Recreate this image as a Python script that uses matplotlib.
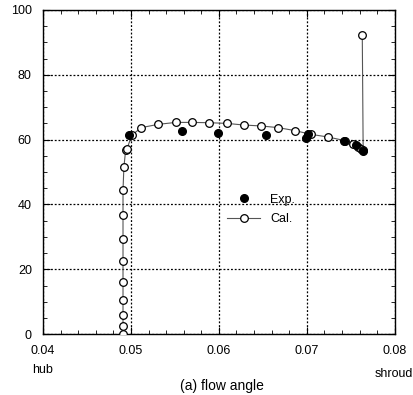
import matplotlib.pyplot as plt
from matplotlib.ticker import MultipleLocator

plt.rcParams['font.family'] = ['Liberation Sans', 'DejaVu Sans']

# calculated flow angle along the span
cal_x = [0.0491, 0.0491, 0.0491, 0.0491, 0.0491, 0.0491, 0.0491, 0.0491,
         0.0491, 0.0492, 0.0494, 0.04955, 0.0501, 0.0512, 0.0531, 0.0551,
         0.0570, 0.0589, 0.0609, 0.0628, 0.0648, 0.0667, 0.0686, 0.0705,
         0.0724, 0.0743, 0.0752, 0.0758, 0.0762, 0.0764, 0.0763]
cal_y = [0.0, 2.5, 5.8, 10.4, 16.0, 22.5, 29.2, 36.6,
         44.4, 51.4, 56.8, 57.1, 61.4, 63.7, 64.7, 65.3,
         65.3, 65.2, 65.0, 64.5, 64.2, 63.7, 62.8, 61.6,
         60.8, 59.7, 58.6, 57.8, 57.2, 56.8, 92.1]

# measured flow angle
exp_x = [0.0498, 0.0558, 0.0599, 0.0654, 0.0699, 0.0701, 0.0742, 0.0756, 0.0764]
exp_y = [61.4, 62.7, 61.9, 61.4, 60.6, 61.6, 59.7, 58.2, 56.6]

fig = plt.figure(figsize=(4.13, 3.95), dpi=100)
ax = fig.add_axes([0.104, 0.154, 0.852, 0.821])

ax.plot(cal_x, cal_y, '-', color='#555555', lw=0.8, marker='o', ms=5.5,
        mfc='white', mec='black', mew=0.9, label='Cal.', zorder=3)
ax.plot(exp_x, exp_y, 'o', color='black', ms=5.5, label='Exp.', linestyle='none', zorder=4)

ax.set_xlim(0.04, 0.08)
ax.set_ylim(0, 100)
ax.xaxis.set_major_locator(MultipleLocator(0.01))
ax.xaxis.set_minor_locator(MultipleLocator(0.002))
ax.yaxis.set_major_locator(MultipleLocator(20))
ax.yaxis.set_minor_locator(MultipleLocator(5))
ax.set_xticks([0.04, 0.05, 0.06, 0.07, 0.08])
ax.set_xticklabels(['0.04', '0.05', '0.06', '0.07', '0.08'])
ax.tick_params(which='both', direction='in', top=True, right=True, labelsize=9, color='black')
ax.tick_params(which='major', length=5)
ax.tick_params(which='minor', length=3)
ax.tick_params(axis='x', pad=8)
ax.tick_params(axis='y', pad=8)
ax.grid(True, which='major', linestyle=(0, (1.5, 1.5)), color='black', lw=0.9)
for s in ax.spines.values():
    s.set_linewidth(1.0)

handles, labels = ax.get_legend_handles_labels()
ax.legend(handles[::-1], labels[::-1], loc='center', bbox_to_anchor=(0.62, 0.385),
          frameon=False, fontsize=9, handlelength=2.6, labelspacing=0.6)

fig.text(0.104, 0.055, 'hub', ha='center', fontsize=9)
fig.text(1.0, 0.045, 'shroud', ha='right', fontsize=9)
fig.text(0.537, 0.012, '(a) flow angle', ha='center', fontsize=10)

fig.savefig('out.png', dpi=100)
